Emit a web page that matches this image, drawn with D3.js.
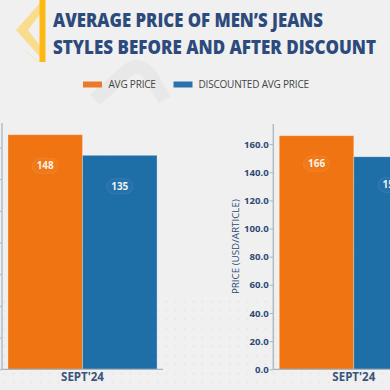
<!DOCTYPE html>
<html><head><meta charset="utf-8">
<script src="https://cdn.jsdelivr.net/npm/d3@7"></script>
<style>html,body{margin:0;padding:0;background:#f0f0f0;overflow:hidden}</style>
</head><body>
<svg id="c" width="390" height="390"></svg>
<script>
// ---- data ----
const categories = ["SEPT'24"];
const seriesNames = ["AVG PRICE", "DISCOUNTED AVG PRICE"];
const leftValues = [148, 135];
const rightValues = [166, 151];
const leftTicks = [0, 20, 40, 60, 80, 100, 120, 140];
const rightTicks = [0, 20, 40, 60, 80, 100, 120, 140, 160];
const titleLines = ["AVERAGE PRICE OF MEN\u2019S JEANS", "STYLES BEFORE AND AFTER DISCOUNT"];
const yTitle = "PRICE (USD/ARTICLE)";

const colors = ["#f07512", "#1e6ea8"];
const legendColors = ["#e97a2c", "#2a72ae"];
const FONT = "'Open Sans', 'Noto Sans', sans-serif";
const navy = "#2c4a74";

const svg = d3.select("#c");
const defs = svg.append("defs");
const pat = defs.append("pattern").attr("id","dots").attr("width",9).attr("height",9).attr("patternUnits","userSpaceOnUse");
pat.append("circle").attr("cx",4.5).attr("cy",4.5).attr("r",0.9).attr("fill","rgba(0,0,0,0.045)");

svg.append("rect").attr("width",390).attr("height",390).attr("fill","#f0f0f0");
svg.append("rect").attr("y",300).attr("width",390).attr("height",90).attr("fill","url(#dots)");

// faint watermark
svg.append("path").attr("d","M95,100 L128,70 Q140,62 150,75 L165,100")
  .attr("fill","none").attr("stroke","rgba(0,0,0,0.03)").attr("stroke-width",14);

// logo
svg.append("path").attr("d","M40,3 L16,30 L40,57 L40,46 L28,30 L40,14 Z").attr("fill","#fcd87e").attr("opacity",0.85);
svg.append("path").attr("d","M26,52 L39,62").attr("stroke","rgba(252,213,118,0.5)").attr("stroke-width",1);
svg.append("rect").attr("x",39.5).attr("y",0).attr("width",6).attr("height",62).attr("fill","#fdb813");

// title
const titleWidths = [270, 323];
titleLines.forEach((t,i)=>{
  svg.append("text").attr("x",53).attr("y",27+i*26.5).text(t)
    .attr("font-family",FONT).attr("font-weight",800).attr("font-size",18.5)
    .attr("textLength",titleWidths[i]).attr("lengthAdjust","spacingAndGlyphs")
    .attr("fill","#2c4b7c");
});

// legend
const legX = [[83,108.5],[173.5,198.5]];
seriesNames.forEach((n,i)=>{
  svg.append("rect").attr("x",legX[i][0]).attr("y",81.5).attr("width",19).attr("height",6).attr("fill",legendColors[i]);
  svg.append("text").attr("x",legX[i][1]).attr("y",88).text(n)
    .attr("font-family",FONT).attr("font-size",10).attr("fill","#454545").attr("letter-spacing",-0.2);
});

function panel(values, ticks, x0, x1, yTop, yBottom, labelOffset, showText){
  const max = d3.max(values)*1.05;
  const y = d3.scaleLinear().domain([0,max]).range([yBottom,yTop]);
  const x = d3.scaleBand().domain(categories).range([x0,x1]).paddingInner(0).paddingOuter(0.04);
  const xs = d3.scaleBand().domain(seriesNames).range([0,x.bandwidth()]).padding(0);
  const g = svg.append("g");
  categories.forEach(cat=>{
    values.forEach((v,i)=>{
      const bx = x(cat)+xs(seriesNames[i]);
      g.append("rect").attr("x",bx).attr("y",y(v)).attr("width",xs.bandwidth()).attr("height",y(0)-y(v))
        .attr("fill",colors[i]).attr("stroke","rgba(255,255,255,0.35)").attr("stroke-width",0.8);
      g.append("rect").attr("x",bx).attr("y",y(v)).attr("width",xs.bandwidth()).attr("height",y(0)-y(v))
        .attr("fill","url(#dots)");
      const cx = bx+xs.bandwidth()/2, cy = y(v)+labelOffset;
      g.append("rect").attr("x",cx-13).attr("y",cy-7.5).attr("width",26).attr("height",15).attr("rx",7.5)
        .attr("fill","rgba(255,255,255,0.03)").attr("stroke","rgba(255,255,255,0.12)").attr("stroke-width",0.8);
      g.append("text").attr("x",cx).attr("y",cy+3.6).attr("text-anchor","middle").text(v)
        .attr("font-family",FONT).attr("font-weight",700).attr("font-size",10).attr("fill","rgba(255,255,255,0.92)");
    });
  });
  // y axis
  const ya = g.append("g").attr("transform",`translate(${x0},0)`)
    .call(d3.axisLeft(y).tickValues(ticks).tickFormat(d3.format(".1f")).tickSize(3.5).tickPadding(1));
  ya.select(".domain").remove();
  ya.selectAll(".tick line").attr("stroke","#a9b4bf");
  if(showText){
    ya.selectAll(".tick text").attr("font-family",FONT).attr("font-weight",700).attr("font-size",9.6).attr("fill",navy);
  } else {
    ya.selectAll(".tick text").remove();
  }
  g.append("line").attr("x1",x0).attr("x2",x0).attr("y1",yTop).attr("y2",yBottom).attr("stroke","#b3bcc5").attr("stroke-width",1.5);
  // x axis
  g.append("line").attr("x1",x0).attr("x2",x1).attr("y1",yBottom).attr("y2",yBottom).attr("stroke","#a9b4bf").attr("stroke-width",1.2);
  categories.forEach(cat=>{
    g.append("text").attr("x",x(cat)+x.bandwidth()/2).attr("y",yBottom+12).attr("text-anchor","middle").text(cat)
      .attr("font-family",FONT).attr("font-weight",700).attr("font-size",11.5).attr("fill","#3a5479");
  });
  if(showText){
    g.append("text").attr("transform",`translate(${x0-34},${(yTop+yBottom)/2}) rotate(-90)`)
      .attr("text-anchor","middle").text(yTitle)
      .attr("font-family",FONT).attr("font-size",9.8).attr("fill",navy);
  }
}

// left panel: its tick labels and axis title lie beyond the picture's left edge
panel(leftValues, leftTicks, 2, 163, 123, 369.3, 31, false);
panel(rightValues, rightTicks, 273.3, 434.3, 124, 369.3, 28, true);
</script>
</body></html>
